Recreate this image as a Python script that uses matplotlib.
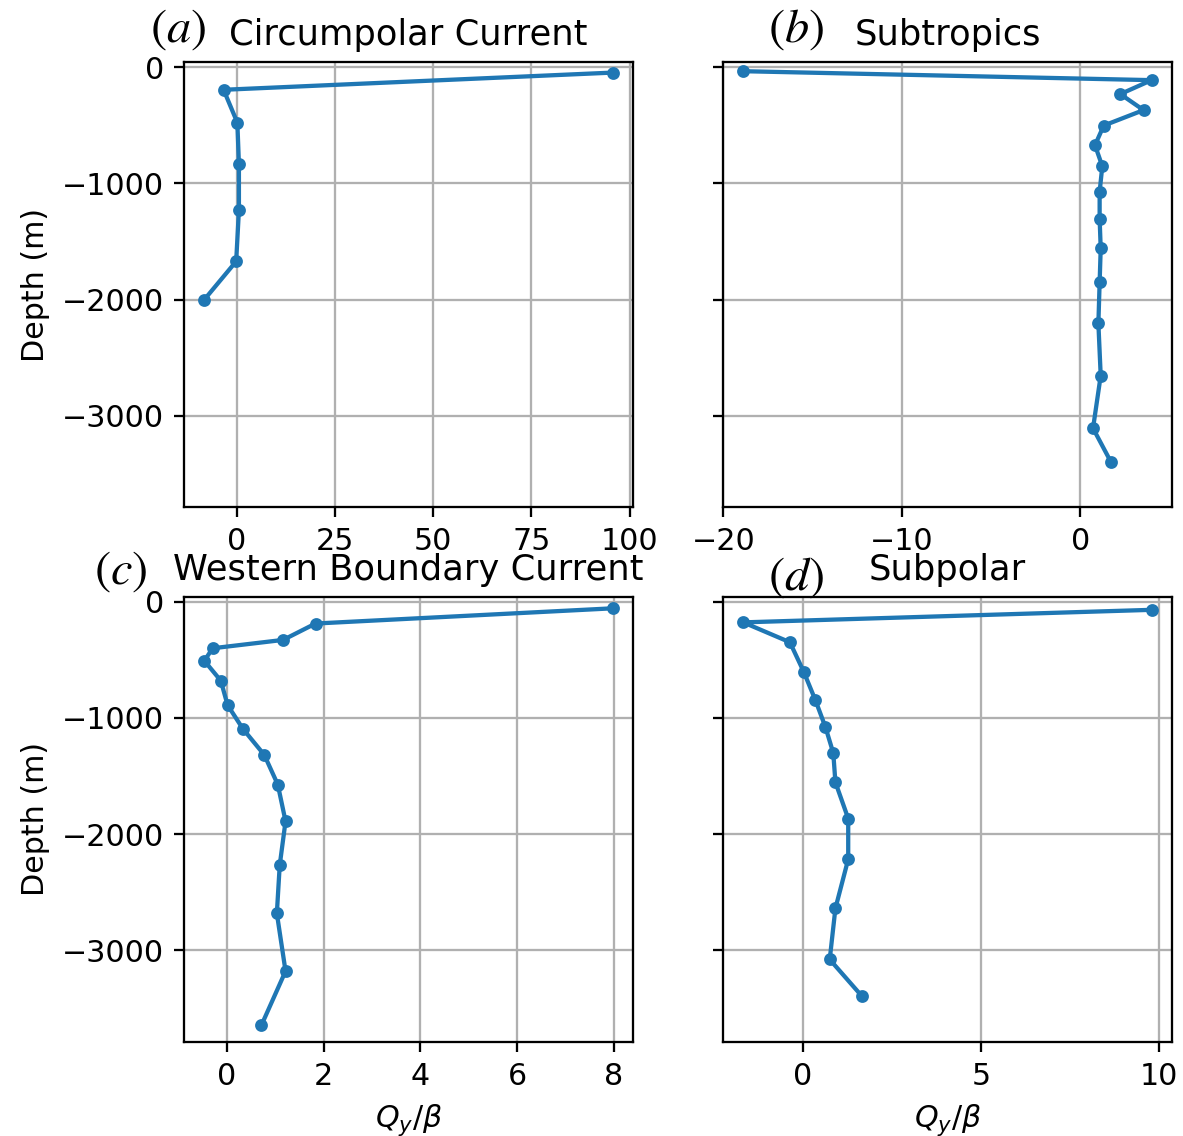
import matplotlib
matplotlib.use('Agg')
import matplotlib.pyplot as plt
from matplotlib.ticker import MultipleLocator

# values (Q_y / beta vs depth)
titles = ['Circumpolar Current', 'Subtropics', 'Western Boundary Current', 'Subpolar']
letters = ['(a)', '(b)', '(c)', '(d)']
xsteps = [25, 10, 2, 5]

depth_a = [-46, -194, -477, -831, -1231, -1671, -2000]
qy_a = [95.7, -3.4, 0.1, 0.5, 0.5, -0.2, -8.3]

depth_b = [-34, -111, -231, -369, -502, -671, -852, -1071, -1305, -1560, -1852, -2206, -2655, -3108, -3400]
qy_b = [-18.88, 3.99, 2.24, 3.54, 1.31, 0.82, 1.23, 1.08, 1.08, 1.14, 1.08, 1.01, 1.14, 0.71, 1.72]

depth_c = [-56, -187, -328, -400, -508, -679, -889, -1095, -1318, -1574, -1889, -2266, -2682, -3180, -3646]
qy_c = [7.98, 1.83, 1.16, -0.30, -0.47, -0.13, 0.01, 0.33, 0.77, 1.05, 1.21, 1.09, 1.03, 1.21, 0.71]

depth_d = [-69, -177, -348, -603, -849, -1079, -1302, -1554, -1866, -2216, -2639, -3079, -3393]
qy_d = [9.80, -1.68, -0.37, 0.02, 0.35, 0.63, 0.85, 0.91, 1.27, 1.27, 0.91, 0.75, 1.65]

depths = [depth_a, depth_b, depth_c, depth_d]
qys = [qy_a, qy_b, qy_c, qy_d]

plt.rcParams['font.size'] = 10.6
plt.rcParams['axes.titlesize'] = 12.4

dpi = 205
fig, axes = plt.subplots(2, 2, sharey=True, figsize=(1183/dpi, 1136/dpi), dpi=dpi)
fig.subplots_adjust(left=0.1555, right=0.9907, bottom=0.0827, top=0.9454,
                    wspace=0.2, hspace=0.2)

for ii, ax in enumerate(axes.flat):
    ax.plot(qys[ii], depths[ii], '.-', color='C0', markersize=7)
    ax.set_title(titles[ii])
    ax.xaxis.set_major_locator(MultipleLocator(xsteps[ii]))
    ax.grid(True)

axes[0, 0].set_ylim(-3790, 45)
axes[0, 0].set_ylabel('Depth (m)')
axes[1, 0].set_ylabel('Depth (m)')
axes[1, 0].set_xlabel(r'$Q_y/\beta$')
axes[1, 1].set_xlabel(r'$Q_y/\beta$')

# panel letters sit left of each title
letter_pos = [(178, 29), (796, 29), (121, 570), (796, 576)]
for (px, py), lab in zip(letter_pos, letters):
    fig.text(px/1183, 1 - py/1136, '$' + lab + '$', fontsize=17,
             math_fontfamily='stix', ha='center', va='center')

fig.savefig('out.png', dpi=dpi)
